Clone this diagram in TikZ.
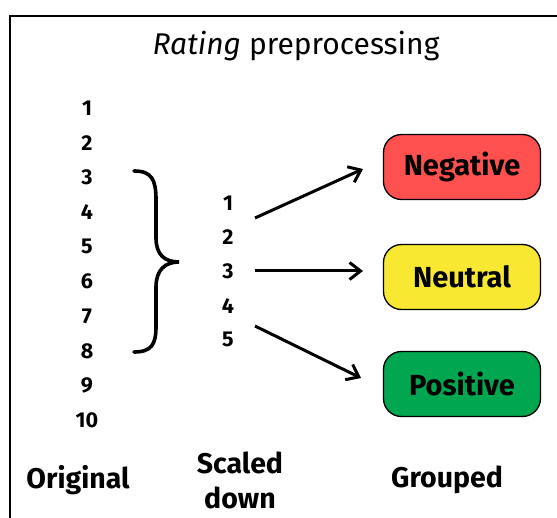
\documentclass[tikz,border=0pt]{standalone}
\usepackage{fontspec}
\setmainfont{Fira Sans}
\usetikzlibrary{arrows.meta}
\definecolor{negred}{HTML}{FF5050}
\definecolor{neuyellow}{HTML}{F8E831}
\definecolor{posgreen}{HTML}{00A650}
\tikzset{
  num/.style={font=\bfseries\fontsize{21.5}{22}\selectfont, inner sep=0pt, anchor=center},
  grp/.style={draw=black, line width=1.3pt, rounded corners=18pt, minimum width=157pt,
    minimum height=65pt, font=\bfseries\fontsize{29}{30}\selectfont},
  colhead/.style={font=\bfseries\fontsize{28.5}{35}\selectfont, align=center, inner sep=0pt},
  maparrow/.style={line width=3pt, -{Straight Barb[length=11pt,width=17pt,line width=3pt]}},
}
\begin{document}
\begin{tikzpicture}[x=1pt,y=-1pt]
\useasboundingbox (0,0) rectangle (557,518);
% outer frame, running off the right and bottom edges
\begin{scope}
\clip (0,0) rectangle (557,518);
\draw[line width=2.5pt] (10,16) rectangle (620,580);
\end{scope}

% title
\node[font=\fontsize{30}{34}\selectfont] (title) at (296,46) {\textit{Rating} preprocessing};

% original ratings
\foreach \i in {1,...,10} {
  \node[num] (o\i) at (87,{108+34.7*(\i-1)}) {\i};
}
% brace grouping 3 to 8
\draw[line width=3.6pt, line cap=round]
  (134,171) .. controls (152,171) and (156,180) .. (156,200)
  -- (156,238) .. controls (156,255) and (165,262) .. (179,262)
  .. controls (165,262) and (156,270) .. (156,287)
  -- (156,326) .. controls (156,344) and (152,352) .. (134,352);

% scaled-down ratings
\foreach \i in {1,...,5} {
  \node[num] (s\i) at (228,{203+34.2*(\i-1)}) {\i};
}

% groups
\node[grp, fill=negred] (neg) at (462,167) {Negative};
\node[grp, fill=neuyellow] (neu) at (462,277) {Neutral};
\node[grp, fill=posgreen] (pos) at (462,384) {Positive};

% mapping arrows
\coordinate (a1) at (255,218);
\coordinate (b1) at (363,169);
\coordinate (a2) at (255,271);
\coordinate (b2) at (363,271);
\coordinate (a3) at (255,326);
\coordinate (b3) at (361,378);
\draw[maparrow] (a1) -- (b1);
\draw[maparrow] (a2) -- (b2);
\draw[maparrow] (a3) -- (b3);

% column headings
\node[colhead] (h1) at (78,480) {Original};
\node[colhead] (h2) at (240,480) {Scaled\\down};
\node[colhead] (h3) at (447,480) {Grouped};
\end{tikzpicture}
\end{document}
